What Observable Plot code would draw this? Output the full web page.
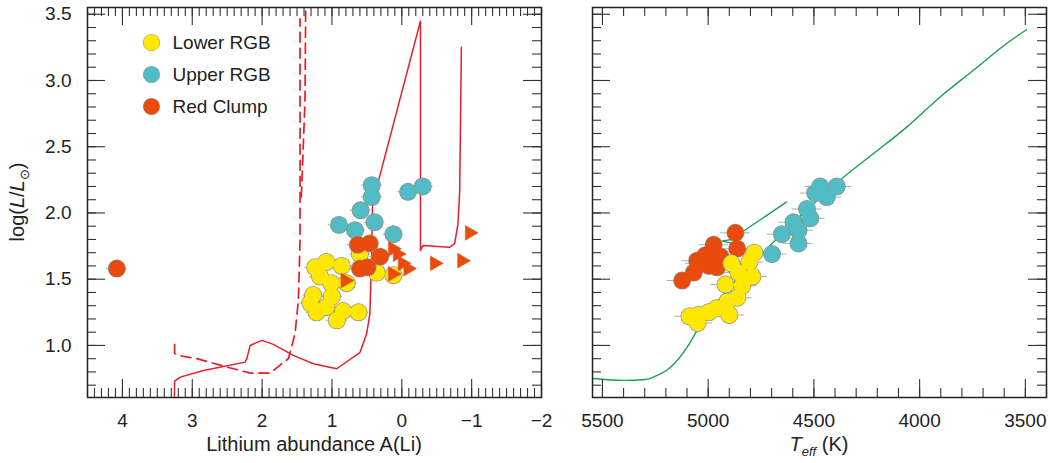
<!DOCTYPE html>
<html><head><meta charset="utf-8">
<script src="https://cdn.jsdelivr.net/npm/d3@7"></script>
<script src="https://cdn.jsdelivr.net/npm/@observablehq/plot@0.6"></script>
<style>
body{margin:0;background:#fff;}
#chart{display:flex;width:1050px;height:463px;background:#fff;}
#chart svg{display:block;}
</style></head><body><div id="chart"></div>
<script>
// ---------------- data: left panel (A(Li) vs log L) ----------------
const lowerRGB_ALi  = [1.24,1.08,0.86,1.17,0.79,0.36,0.12,0.60,1.27,1.31,1.22,1.00,1.08,0.84,0.93,0.62,1.01];
const lowerRGB_logL = [1.59,1.63,1.60,1.52,1.47,1.55,1.53,1.69,1.38,1.32,1.25,1.37,1.29,1.26,1.19,1.25,1.47];
const upperRGB_ALi  = [0.43,0.43,0.59,0.90,0.67,0.39,0.12,-0.09,-0.30];
const upperRGB_logL = [2.21,2.12,2.02,1.91,1.87,1.93,1.84,2.16,2.20];
const clump_ALi     = [4.08,0.63,0.46,0.31,0.60,0.49];
const clump_logL    = [1.58,1.76,1.77,1.67,1.58,1.59];
const limit_ALi     = [0.81,0.13,0.06,-0.01,-0.09,0.13,-0.47,-0.86,-0.97];
const limit_logL    = [1.49,1.73,1.69,1.62,1.58,1.54,1.62,1.64,1.85];
const ALiError = 0.15;

// model tracks (red)
const solidTrack_ALi  = [3.26,3.253,3.171,2.839,2.243,2.219,2.171,2.004,1.839,1.553,1.267,0.933,0.60,0.504,0.457,0.433,0.419,0.33,-0.267,-0.267,-0.304,-0.686,-0.757,-0.804,-0.829,-0.853];
const solidTrack_logL = [0.40,0.731,0.761,0.811,0.874,0.90,1.00,1.038,1.008,0.925,0.862,0.824,0.945,1.088,1.239,1.666,2.069,2.25,3.448,1.717,1.755,1.742,1.768,1.918,2.17,3.251];
const dashTrack_ALi   = [3.253,3.253,3.21,2.933,2.553,2.171,1.886,1.624,1.529,1.481,1.457,1.457,1.457];
const dashTrack_logL  = [1.008,0.942,0.925,0.90,0.844,0.791,0.791,0.90,1.088,1.34,1.792,2.17,3.466];
const dashTrack2_ALi  = [1.44,1.433,1.386,1.376,1.37];
const dashTrack2_logL = [2.12,2.19,2.85,3.55,3.65];

// ---------------- data: right panel (Teff vs log L) ----------------
const lowerRGB_Teff  = [4782,4805,4791,4857,4890,4918,4862,4909,4900,4961,4998,5046,5088,5050,4839];
const lowerRGB_logL2 = [1.70,1.63,1.52,1.55,1.62,1.46,1.36,1.33,1.23,1.28,1.25,1.23,1.22,1.17,1.45];
const upperRGB_Teff  = [4470,4392,4494,4439,4533,4517,4596,4573,4651,4573,4698];
const upperRGB_logL2 = [2.20,2.20,2.15,2.12,2.03,1.96,1.93,1.87,1.84,1.77,1.69];
const clump_Teff     = [4871,4863,4974,5013,5052,4942,4997,4958,5068,5123,5036];
const clump_logL2    = [1.85,1.73,1.76,1.68,1.64,1.67,1.60,1.59,1.55,1.49,1.62];
const TeffError = 70;

// model track (green)
const rgbTrack_Teff  = [5547,5398,5296,5241,5178,5099,5052,4738,4683,4360,4219,4061,3904,3747,3590,3495];
const rgbTrack_logL  = [0.75,0.736,0.743,0.774,0.836,0.987,1.113,1.704,1.792,2.27,2.447,2.648,2.874,3.075,3.277,3.383];
const clumpTrack_Teff = [4891,4934,4891,4630];
const clumpTrack_logL = [1.772,1.787,1.80,2.082];

// ---------------- axes / legend ----------------
const xTicksLeft  = [4,3,2,1,0,-1,-2];
const xMinorLeft  = d3.range(45,-21,-1).map(d => d/10);
const yTicks      = [1.0,1.5,2.0,2.5,3.0,3.5];
const yMinor      = d3.range(7,36).map(d => d/10);
const xTicksRight = [5500,5000,4500,4000,3500];
const xMinorRight = d3.range(5500,3399,-100);
const legendLabels = ["Lower RGB","Upper RGB","Red Clump"];

const colYellow = "#FFE800", colTeal = "#52BCC4", colOrange = "#E84B0C";
const colRed = "#E41E2B", colGreen = "#19A04F";
const legendColors = [colYellow, colTeal, colOrange];
const fontFamily = "'Liberation Sans', Arial, Helvetica, sans-serif";
const textColor = "#222";

const H = 463, mT = 7, mB = 66;
const FH = H - mT - mB;

const pts = (xs, ys) => xs.map((x,i) => ({x, y: ys[i]}));

function tickMarks(xMajor, xMinor, fw) {
  const s = {stroke: "#333", strokeWidth: 1.1};
  return [
    Plot.tickX(xMinor, {x: d => d, insetTop: FH - 9, ...s}),
    Plot.tickX(xMinor, {x: d => d, insetBottom: FH - 9, ...s}),
    Plot.tickX(xMajor, {x: d => d, insetTop: FH - 18, ...s}),
    Plot.tickX(xMajor, {x: d => d, insetBottom: FH - 18, ...s}),
    Plot.tickY(yMinor, {y: d => d, insetRight: fw - 9, ...s}),
    Plot.tickY(yMinor, {y: d => d, insetLeft: fw - 9, ...s}),
    Plot.tickY(yTicks, {y: d => d, insetRight: fw - 18, ...s}),
    Plot.tickY(yTicks, {y: d => d, insetLeft: fw - 18, ...s})
  ];
}
// outline layer first, fill layer on top: overlapping dots merge into blobs
function circles(data, fill) {
  return [
    Plot.dot(data, {x: "x", y: "y", r: 9, fill: "#8e8e8e"}),
    Plot.dot(data, {x: "x", y: "y", r: 8.3, fill})
  ];
}

// ---------------- left plot ----------------
const LW = 560, LmL = 87, LmR = 19, LFW = LW - LmL - LmR;
const lowerL = pts(lowerRGB_ALi, lowerRGB_logL);
const upperL = pts(upperRGB_ALi, upperRGB_logL);
const clumpL = pts(clump_ALi, clump_logL);
const limitL = pts(limit_ALi, limit_logL);

const legendMarks = legendLabels.flatMap((lab, i) => [
  Plot.dot([lab], {frameAnchor: "top-left", dx: 64, dy: 35 + i*32, r: 8.6, fill: "#9a9a9a"}),
  Plot.dot([lab], {frameAnchor: "top-left", dx: 64, dy: 35 + i*32, r: 8, fill: legendColors[i]}),
  Plot.text([lab], {frameAnchor: "top-left", dx: 85, dy: 35 + i*32, text: d => d, textAnchor: "start", lineAnchor: "middle", fontSize: 19, fill: textColor})
]);

const left = Plot.plot({
  width: LW, height: H,
  marginLeft: LmL, marginRight: LmR, marginTop: mT, marginBottom: mB,
  x: {domain: [4.5, -2]},
  y: {domain: [0.607, 3.551]},
  style: {fontFamily, fontSize: "19px", color: textColor, background: "white"},
  marks: [
    Plot.line(pts(solidTrack_ALi, solidTrack_logL), {x: "x", y: "y", stroke: colRed, strokeWidth: 1.5, clip: true}),
    Plot.line(pts(dashTrack_ALi, dashTrack_logL), {x: "x", y: "y", stroke: colRed, strokeWidth: 1.7, strokeDasharray: "10,6", clip: true}),
    Plot.line(pts(dashTrack2_ALi, dashTrack2_logL), {x: "x", y: "y", stroke: colRed, strokeWidth: 1.7, strokeDasharray: "10,6", clip: true}),
    Plot.ruleY([...lowerL, ...upperL, ...clumpL], {y: "y", x1: d => d.x - ALiError, x2: d => d.x + ALiError, stroke: "#999", strokeWidth: 0.8}),
    ...circles(lowerL, colYellow),
    ...circles(upperL, colTeal),
    ...circles(clumpL, colOrange),
    Plot.dot(limitL, {x: "x", y: "y", symbol: "triangle", r: 5.5, rotate: 90, fill: colOrange, stroke: colOrange, strokeWidth: 0.5}),
    ...legendMarks,
    ...tickMarks(xTicksLeft, xMinorLeft, LFW),
    Plot.frame({stroke: "#222", strokeWidth: 1.5}),
    Plot.axisX({ticks: xTicksLeft, tickSize: 0, tickPadding: 16, tickFormat: "d", label: null, fontSize: 19}),
    Plot.axisY({ticks: yTicks, tickSize: 0, tickPadding: 16, tickFormat: ".1f", label: null, fontSize: 19})
  ]
});

// ---------------- right plot ----------------
const RW = 490, RmL = 32, RmR = 4, RFW = RW - RmL - RmR;
const lowerR = pts(lowerRGB_Teff, lowerRGB_logL2);
const upperR = pts(upperRGB_Teff, upperRGB_logL2);
const clumpR = pts(clump_Teff, clump_logL2);

const right = Plot.plot({
  width: RW, height: H,
  marginLeft: RmL, marginRight: RmR, marginTop: mT, marginBottom: mB,
  x: {domain: [5547, 3400]},
  y: {domain: [0.607, 3.551], axis: null},
  style: {fontFamily, fontSize: "19px", color: textColor, background: "white"},
  marks: [
    Plot.line(pts(rgbTrack_Teff, rgbTrack_logL), {x: "x", y: "y", stroke: colGreen, strokeWidth: 1.4, curve: "monotone-x", clip: true}),
    Plot.line(pts(clumpTrack_Teff, clumpTrack_logL), {x: "x", y: "y", stroke: colGreen, strokeWidth: 1.4, clip: true}),
    Plot.ruleY([...clumpR, ...lowerR, ...upperR], {y: "y", x1: d => d.x - TeffError, x2: d => d.x + TeffError, stroke: "#999", strokeWidth: 0.8}),
    ...circles(clumpR, colOrange),
    ...circles(lowerR, colYellow),
    ...circles(upperR, colTeal),
    ...tickMarks(xTicksRight, xMinorRight, RFW),
    Plot.frame({stroke: "#222", strokeWidth: 1.5}),
    Plot.axisX({ticks: xTicksRight, tickSize: 0, tickPadding: 16, tickFormat: "d", label: null, fontSize: 19})
  ]
});

// ---------------- rich-text axis titles ----------------
function addText(svg, x, y, rotate, parts) {
  const t = d3.select(svg).append("text")
    .attr("transform", `translate(${x},${y})` + (rotate ? ` rotate(${rotate})` : ""))
    .attr("text-anchor", "middle").attr("font-size", 20)
    .attr("fill", textColor).attr("font-family", fontFamily);
  for (const p of parts) {
    const s = t.append("tspan").text(p.t);
    if (p.i) s.attr("font-style", "italic");
    if (p.fs) s.attr("font-size", p.fs);
    if (p.dy) s.attr("dy", p.dy);
  }
}
addText(left, 24, mT + FH/2, -90, [
  {t: "log("}, {t: "L", i: 1}, {t: "/"}, {t: "L", i: 1}, {t: "⊙", fs: 13, dy: 5}, {t: ")", dy: -5}
]);
addText(left, LmL + LFW/2, 451, 0, [{t: "Lithium abundance A(Li)"}]);
addText(right, RmL + RFW/2, 451, 0, [
  {t: "T", i: 1}, {t: "eff", i: 1, fs: 13, dy: 5}, {t: " (K)", dy: -5}
]);

document.getElementById("chart").append(left, right);
</script></body></html>
